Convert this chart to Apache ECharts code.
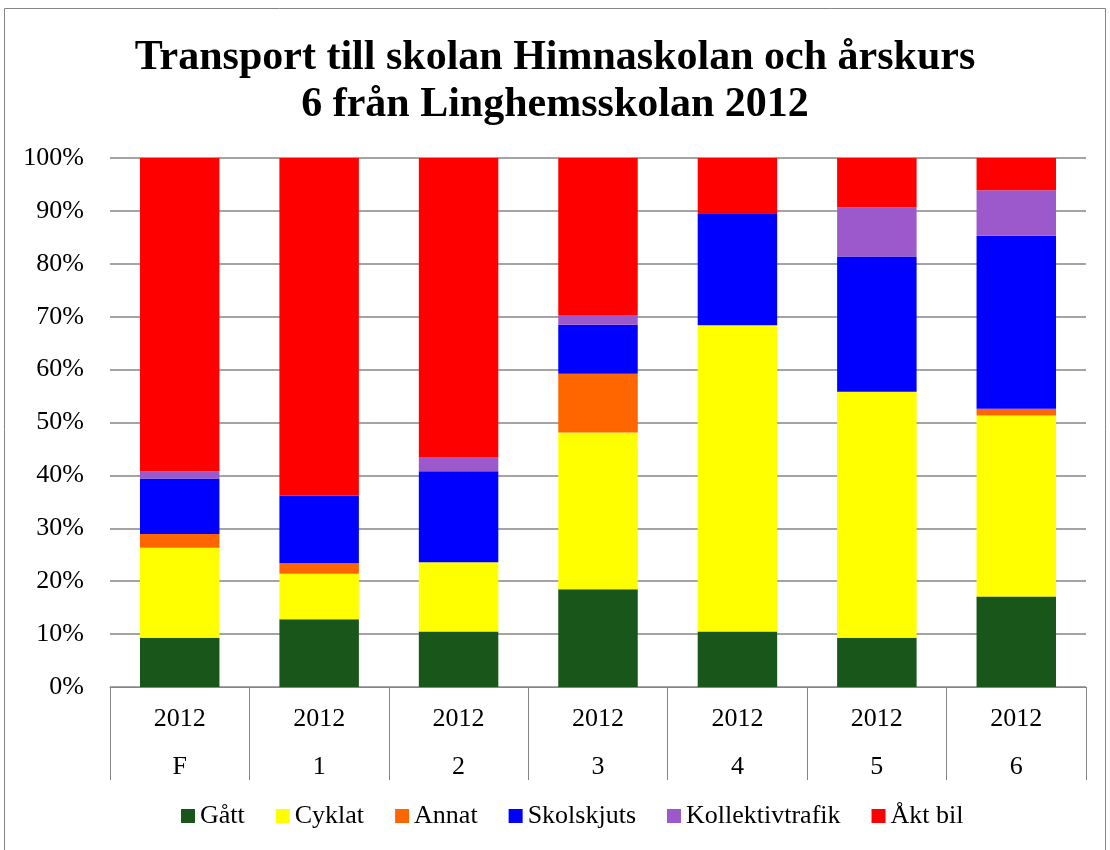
<!DOCTYPE html>
<html>
<head>
<meta charset="utf-8">
<script src="https://cdn.jsdelivr.net/npm/echarts@6/dist/echarts.min.js"></script>
<style>
html, body { margin: 0; padding: 0; background: #fff; }
#chart { width: 1110px; height: 850px; }
</style>
</head>
<body>
<div id="chart"></div>
<script>
'use strict';
var years = ['2012', '2012', '2012', '2012', '2012', '2012', '2012'];
var grades = ['F', '1', '2', '3', '4', '5', '6'];
var yTicks = [0, 10, 20, 30, 40, 50, 60, 70, 80, 90, 100];

// andel i procent per årskurs
var gatt = [9.3, 12.8, 10.5, 18.5, 10.5, 9.3, 17.1];
var cyklat = [17.0, 8.6, 13.1, 29.6, 57.9, 46.5, 34.2];
var annat = [2.6, 2.0, 0, 11.1, 0, 0, 1.3];
var skolskjuts = [10.5, 12.8, 17.2, 9.3, 21.0, 25.6, 32.7];
var kollektiv = [1.4, 0, 2.7, 1.8, 0, 9.3, 8.6];
var aktBil = [59.2, 63.8, 56.5, 29.7, 10.6, 9.3, 6.1];

var font = '"Liberation Serif", "Times New Roman", serif';

function bar(name, data, color) {
	return {
		name: name,
		type: 'bar',
		stack: 'total',
		data: data,
		barCategoryGap: '43%',
		itemStyle: {color: color},
		emphasis: {disabled: true}
	};
}

var myChart = echarts.init(document.getElementById('chart'));
var option = {
	animation: false,
	title: {
		text: 'Transport till skolan Himnaskolan och årskurs\n6 från Linghemsskolan 2012',
		left: 'center',
		top: 30,
		textStyle: {
			fontFamily: font,
			fontSize: 42,
			fontWeight: 'bold',
			color: '#000',
			lineHeight: 47
		}
	},
	graphic: [{
		type: 'rect',
		shape: {x: 4.5, y: 8.5, width: 1101, height: 860},
		style: {fill: 'none', stroke: '#868686', lineWidth: 1},
		silent: true
	}],
	legend: {
		bottom: 16,
		left: 176,
		itemWidth: 14,
		itemHeight: 14,
		itemGap: 31,
		icon: 'rect',
		textStyle: {fontFamily: font, fontSize: 26, color: '#000'},
		data: ['Gått', 'Cyklat', 'Annat', 'Skolskjuts', 'Kollektivtrafik', 'Åkt bil']
	},
	grid: {left: 110, right: 24, top: 158, bottom: 163},
	xAxis: {
		type: 'category',
		data: grades,
		axisLine: {lineStyle: {color: '#868686', width: 1}},
		axisTick: {show: true, length: 93, lineStyle: {color: '#868686', width: 1}},
		axisLabel: {
			margin: 8,
			formatter: function (v, i) {
				return '{a|' + years[i] + '}\n{b|' + v + '}';
			},
			rich: {
				a: {fontFamily: font, fontSize: 26, color: '#000', lineHeight: 48},
				b: {fontFamily: font, fontSize: 26, color: '#000', lineHeight: 48}
			}
		}
	},
	yAxis: {
		type: 'value',
		min: yTicks[0],
		max: yTicks[yTicks.length - 1],
		interval: 10,
		axisLine: {show: false},
		axisTick: {show: false},
		splitLine: {lineStyle: {color: '#868686', width: 1.5}},
		axisLabel: {
			margin: 26,
			formatter: '{value}%',
			fontFamily: font,
			fontSize: 26,
			color: '#000'
		}
	},
	series: [
		bar('Gått', gatt, '#18561A'),
		bar('Cyklat', cyklat, '#FFFF00'),
		bar('Annat', annat, '#FF6600'),
		bar('Skolskjuts', skolskjuts, '#0000FF'),
		bar('Kollektivtrafik', kollektiv, '#9B59CC'),
		bar('Åkt bil', aktBil, '#FF0000')
	]
};
myChart.setOption(option);
</script>
</body>
</html>
